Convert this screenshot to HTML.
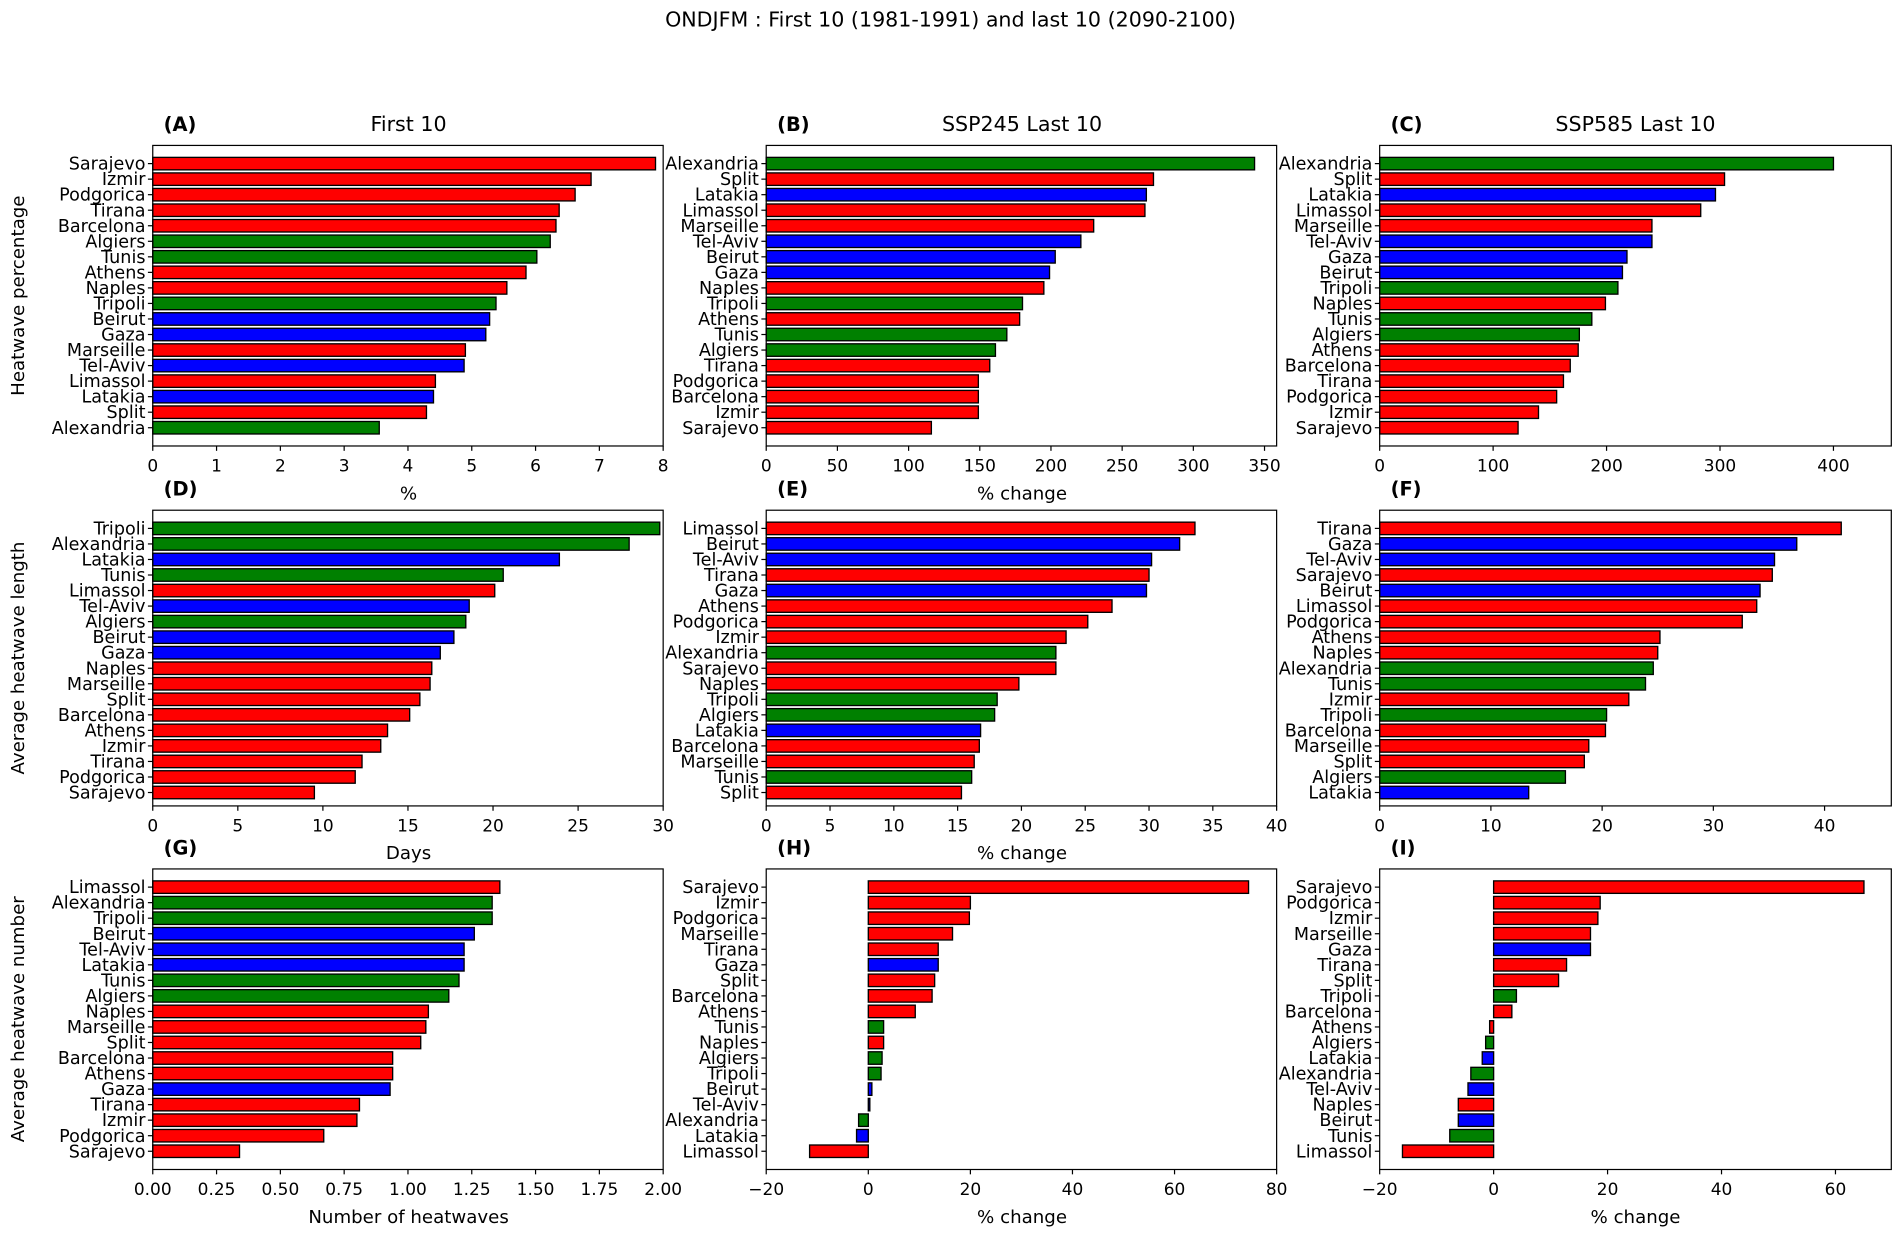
<!DOCTYPE html>
<html><head><meta charset="utf-8"><style>
html,body{margin:0;padding:0;background:#fff;}
svg{display:block;font-family:"DejaVu Sans","Liberation Sans",sans-serif;}
</style></head><body>
<svg id="fig" width="1901" height="1241" viewBox="0 0 1568 1024" preserveAspectRatio="none" xmlns="http://www.w3.org/2000/svg">
<text x="784" y="22" font-size="17" text-anchor="middle">ONDJFM : First 10 (1981-1991) and last 10 (2090-2100)</text>
<text transform="translate(20,244) rotate(-90)" font-size="15" text-anchor="middle">Heatwave percentage</text>
<text transform="translate(20,543) rotate(-90)" font-size="15" text-anchor="middle">Average heatwave length</text>
<text transform="translate(20,841) rotate(-90)" font-size="15" text-anchor="middle">Average heatwave number</text>
</svg>
<script>
const citiesA=["Sarajevo","Izmir","Podgorica","Tirana","Barcelona","Algiers","Tunis","Athens","Naples","Tripoli","Beirut","Gaza","Marseille","Tel-Aviv","Limassol","Latakia","Split","Alexandria"];
const valuesA=[7.88,6.87,6.62,6.37,6.32,6.23,6.02,5.85,5.55,5.38,5.28,5.22,4.9,4.88,4.43,4.4,4.29,3.55];
const ticksA=[0,1,2,3,4,5,6,7,8];
const citiesB=["Alexandria","Split","Latakia","Limassol","Marseille","Tel-Aviv","Beirut","Gaza","Naples","Tripoli","Athens","Tunis","Algiers","Tirana","Podgorica","Barcelona","Izmir","Sarajevo"];
const valuesB=[343,272,267,266,230,221,203,199,195,180,178,169,161,157,149,149,149,116];
const ticksB=[0,50,100,150,200,250,300,350];
const citiesC=["Alexandria","Split","Latakia","Limassol","Marseille","Tel-Aviv","Gaza","Beirut","Tripoli","Naples","Tunis","Algiers","Athens","Barcelona","Tirana","Podgorica","Izmir","Sarajevo"];
const valuesC=[400,304,296,283,240,240,218,214,210,199,187,176,175,168,162,156,140,122];
const ticksC=[0,100,200,300,400];
const citiesD=["Tripoli","Alexandria","Latakia","Tunis","Limassol","Tel-Aviv","Algiers","Beirut","Gaza","Naples","Marseille","Split","Barcelona","Athens","Izmir","Tirana","Podgorica","Sarajevo"];
const valuesD=[29.8,28.0,23.9,20.6,20.1,18.6,18.4,17.7,16.9,16.4,16.3,15.7,15.1,13.8,13.4,12.3,11.9,9.5];
const ticksD=[0,5,10,15,20,25,30];
const citiesE=["Limassol","Beirut","Tel-Aviv","Tirana","Gaza","Athens","Podgorica","Izmir","Alexandria","Sarajevo","Naples","Tripoli","Algiers","Latakia","Barcelona","Marseille","Tunis","Split"];
const valuesE=[33.6,32.4,30.2,30.0,29.8,27.1,25.2,23.5,22.7,22.7,19.8,18.1,17.9,16.8,16.7,16.3,16.1,15.3];
const ticksE=[0,5,10,15,20,25,30,35,40];
const citiesF=["Tirana","Gaza","Tel-Aviv","Sarajevo","Beirut","Limassol","Podgorica","Athens","Naples","Alexandria","Tunis","Izmir","Tripoli","Barcelona","Marseille","Split","Algiers","Latakia"];
const valuesF=[41.5,37.5,35.5,35.3,34.2,33.9,32.6,25.2,25.0,24.6,23.9,22.4,20.4,20.3,18.8,18.4,16.7,13.4];
const ticksF=[0,10,20,30,40];
const citiesG=["Limassol","Alexandria","Tripoli","Beirut","Tel-Aviv","Latakia","Tunis","Algiers","Naples","Marseille","Split","Barcelona","Athens","Gaza","Tirana","Izmir","Podgorica","Sarajevo"];
const valuesG=[1.36,1.33,1.33,1.26,1.22,1.22,1.2,1.16,1.08,1.07,1.05,0.94,0.94,0.93,0.81,0.8,0.67,0.34];
const ticksG=[0,0.25,0.5,0.75,1,1.25,1.5,1.75,2];
const citiesH=["Sarajevo","Izmir","Podgorica","Marseille","Tirana","Gaza","Split","Barcelona","Athens","Tunis","Naples","Algiers","Tripoli","Beirut","Tel-Aviv","Alexandria","Latakia","Limassol"];
const valuesH=[74.5,20,19.8,16.5,13.7,13.7,13,12.5,9.2,3,3,2.7,2.5,0.7,0.3,-1.9,-2.3,-11.5];
const ticksH=[-20,0,20,40,60,80];
const citiesI=["Sarajevo","Podgorica","Izmir","Marseille","Gaza","Tirana","Split","Tripoli","Barcelona","Athens","Algiers","Latakia","Alexandria","Tel-Aviv","Naples","Beirut","Tunis","Limassol"];
const valuesI=[65,18.7,18.3,17,17,12.8,11.4,4,3.2,-0.7,-1.4,-2,-4,-4.5,-6.2,-6.2,-7.7,-16];
const ticksI=[-20,0,20,40,60];

const green=["Algiers","Tunis","Tripoli","Alexandria"], blue=["Beirut","Gaza","Tel-Aviv","Latakia"];
function colorOf(c){return green.includes(c)?"#008000":blue.includes(c)?"#0000ff":"#ff0000";}
const NS="http://www.w3.org/2000/svg", svg=document.getElementById("fig");
function mk(tag,attrs,parent,txt){const e=document.createElementNS(NS,tag);for(const k in attrs)e.setAttribute(k,attrs[k]);if(txt!==undefined)e.textContent=txt;(parent||svg).appendChild(e);return e;}

const colsX=[[126,547],[632,1053],[1138,1560]];
const rowsY=[[120,368],[421,665],[717,965]];
const panels=[
 {id:"A",c:citiesA,v:valuesA,t:ticksA,min:0,max:8,title:"First 10",xl:"%",fmt:v=>String(v)},
 {id:"B",c:citiesB,v:valuesB,t:ticksB,min:0,max:358.5,title:"SSP245 Last 10",xl:"% change",fmt:v=>String(v)},
 {id:"C",c:citiesC,v:valuesC,t:ticksC,min:0,max:451,title:"SSP585 Last 10",xl:"",fmt:v=>String(v)},
 {id:"D",c:citiesD,v:valuesD,t:ticksD,min:0,max:30,title:"",xl:"Days",fmt:v=>String(v)},
 {id:"E",c:citiesE,v:valuesE,t:ticksE,min:0,max:40,title:"",xl:"% change",fmt:v=>String(v)},
 {id:"F",c:citiesF,v:valuesF,t:ticksF,min:0,max:46,title:"",xl:"",fmt:v=>String(v)},
 {id:"G",c:citiesG,v:valuesG,t:ticksG,min:0,max:2,title:"",xl:"Number of heatwaves",fmt:v=>v.toFixed(2)},
 {id:"H",c:citiesH,v:valuesH,t:ticksH,min:-20,max:80,title:"",xl:"% change",fmt:v=>v<0?"\u2212"+(-v):String(v)},
 {id:"I",c:citiesI,v:valuesI,t:ticksI,min:-20,max:69.8,title:"",xl:"% change",fmt:v=>v<0?"\u2212"+(-v):String(v)}
];
panels.forEach((p,idx)=>{
  const [x0,x1]=colsX[idx%3],[y0,y1]=rowsY[Math.floor(idx/3)];
  const g=mk("g",{});
  
  
  const sx=v=>x0+(v-p.min)/(p.max-p.min)*(x1-x0);
  const sy=i=>y0+15+i*12.82;
  const bh=10.3;
  p.c.forEach((c,i)=>{
    const a=sx(0),b=sx(p.v[i]);
    const r=mk("rect",{x:Math.min(a,b),y:sy(i)-bh/2,width:Math.abs(b-a),height:bh,fill:colorOf(c),stroke:"#000","stroke-width":1.1},g);
    
    
    mk("line",{x1:x0,x2:x0-4,y1:sy(i),y2:sy(i),stroke:"#000","stroke-width":1},g);
    const l=mk("text",{x:x0-6,y:sy(i)+5,"font-size":14.5,"text-anchor":"end"},g,c);
    
    
  });
  p.t.forEach(t=>{
    const x=sx(t);
    mk("line",{x1:x,x2:x,y1:y1,y2:y1+4,stroke:"#000","stroke-width":1},g);
    const l=mk("text",{x:x,y:y1+21,"font-size":14,"text-anchor":"middle"},g,p.fmt(t));
    
    
  });
  const fr=mk("rect",{x:x0,y:y0,width:x1-x0,height:y1-y0,fill:"none",stroke:"#000","stroke-width":1},g);
  
  
  const pl=mk("text",{x:x0+9,y:y0-12,"font-size":16,"font-weight":"bold"},g,"("+p.id+")");
  
  
  if(p.title){const t=mk("text",{x:x0+211,y:y0-12,"font-size":17,"text-anchor":"middle"},g,p.title);
    
    }
  if(p.xl){const t=mk("text",{x:x0+211,y:y1+44,"font-size":15,"text-anchor":"middle"},g,p.xl);
    
    }
});
</script>
</body></html>
